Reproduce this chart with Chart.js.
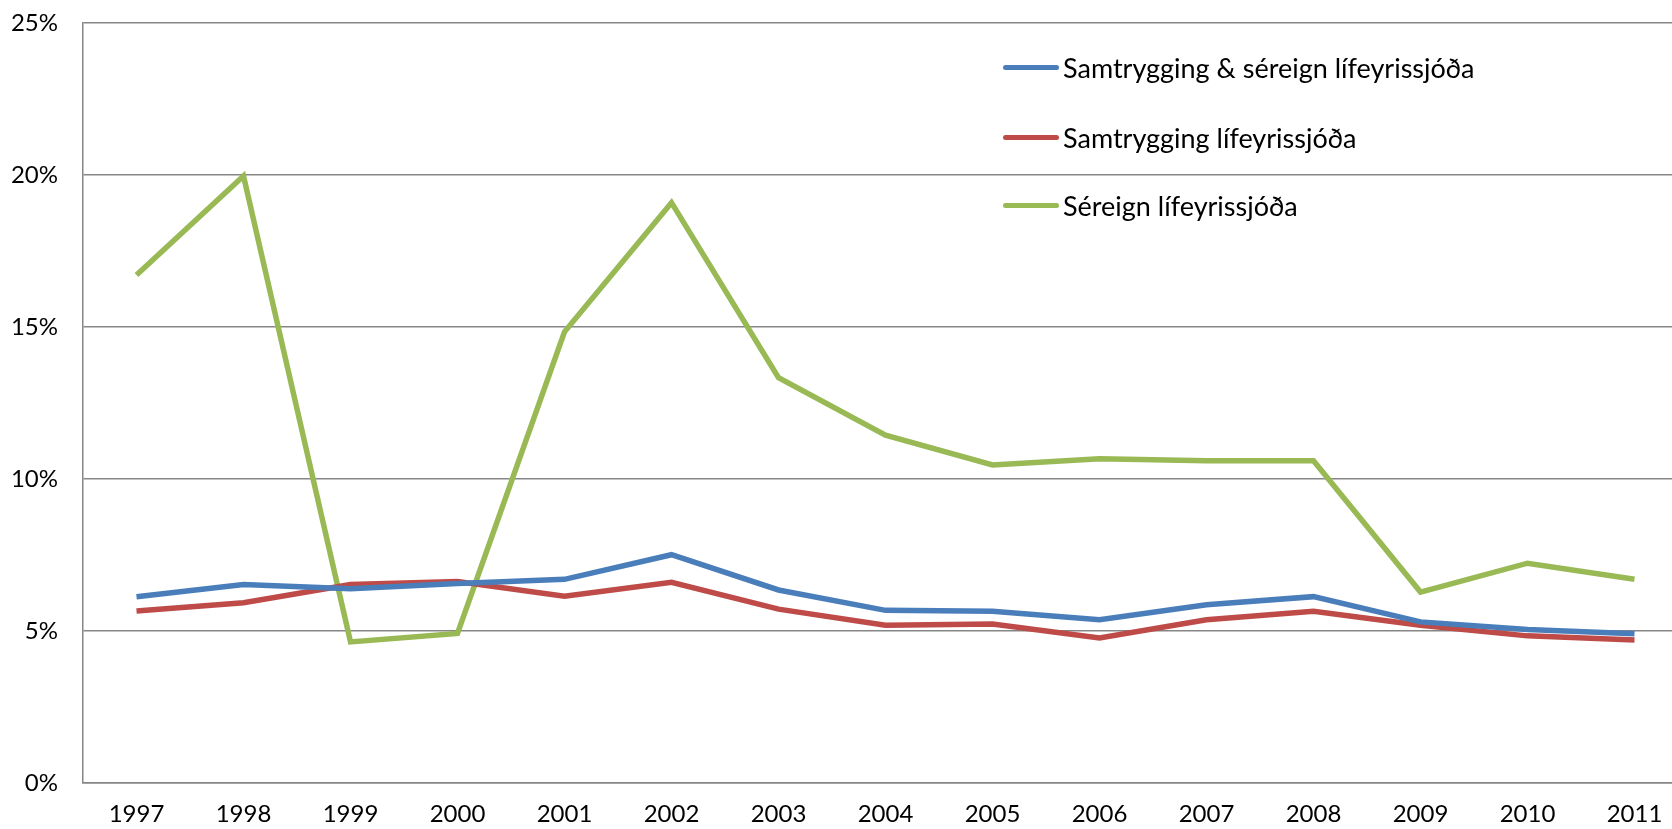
<!DOCTYPE html>
<html>
<head>
<meta charset="utf-8">
<script src="https://cdn.jsdelivr.net/npm/chart.js@4/dist/chart.umd.min.js"></script>
<style>
  html, body { margin: 0; padding: 0; background: #fff; overflow: hidden; width: 1672px; height: 829px; }
  #wrap { position: relative; width: 1690px; height: 829px; }
  #legend { position: absolute; left: 1003px; top: 0; font-family: Lato, "Open Sans", sans-serif; font-size: 27px; color: #000; }
  .item { position: absolute; left: 0; display: flex; align-items: center; white-space: nowrap; height: 34px; }
  .swatch { width: 56px; height: 5px; border-radius: 3px; margin-right: 4px; }
</style>
</head>
<body>
<div id="wrap">
  <canvas id="c" width="1690" height="829"></canvas>
  <div id="legend"></div>
</div>
<script>
const categories = ['1997','1998','1999','2000','2001','2002','2003','2004','2005','2006','2007','2008','2009','2010','2011'];
const seriesNames = ['Samtrygging & séreign lífeyrissjóða', 'Samtrygging lífeyrissjóða', 'Séreign lífeyrissjóða'];
const combined = [6.13, 6.53, 6.39, 6.56, 6.70, 7.51, 6.35, 5.68, 5.65, 5.37, 5.86, 6.13, 5.30, 5.05, 4.91];
const collective = [5.66, 5.93, 6.53, 6.63, 6.14, 6.60, 5.72, 5.19, 5.23, 4.77, 5.37, 5.65, 5.19, 4.84, 4.70];
const privatePension = [16.71, 19.97, 4.64, 4.92, 14.84, 19.09, 13.33, 11.44, 10.46, 10.67, 10.60, 10.60, 6.28, 7.23, 6.70];
const yTicks = [0, 5, 10, 15, 20, 25];
const colors = ['#4A7EBB', '#BE4B48', '#98B954'];

const values = [combined, collective, privatePension];
const datasets = seriesNames.map((name, i) => ({
  label: name,
  data: values[i],
  borderColor: colors[i],
  backgroundColor: colors[i],
  borderWidth: 5.5,
  pointRadius: 0,
  tension: 0,
  fill: false
}));

const font = { family: 'Lato, "Open Sans", sans-serif', size: 24 };

new Chart(document.getElementById('c'), {
  type: 'line',
  data: { labels: categories, datasets: datasets },
  options: {
    responsive: false,
    animation: false,
    devicePixelRatio: 1,
    layout: { padding: { left: 0, right: 2, top: 23, bottom: 0 } },
    plugins: { legend: { display: false }, tooltip: { enabled: false } },
    scales: {
      x: {
        type: 'category',
        offset: true,
        grid: { display: false, drawTicks: false },
        border: { display: true, color: '#868686', width: 1.5 },
        ticks: { color: '#000', font: font, padding: 17, maxRotation: 0, autoSkip: false },
        afterFit: s => { s.height = 46; s.paddingLeft = 0; s.paddingRight = 0; }
      },
      y: {
        min: 0, max: 25,
        afterBuildTicks: s => { s.ticks = yTicks.map(v => ({ value: v })); },
        grid: { color: '#868686', lineWidth: 1.5, drawTicks: false },
        border: { display: true, color: '#868686', width: 1.5 },
        ticks: { color: '#000', font: font, padding: 25, callback: v => v + '%' },
        afterFit: s => { s.width = 83; s.paddingTop = 0; s.paddingBottom = 0; }
      }
    }
  }
});

const legend = document.getElementById('legend');
const rowCenters = [67, 137, 205];
datasets.forEach((d, i) => {
  const item = document.createElement('div');
  item.className = 'item';
  item.style.top = (rowCenters[i] - 17) + 'px';
  const sw = document.createElement('div');
  sw.className = 'swatch';
  sw.style.background = d.borderColor;
  const t = document.createElement('span');
  t.textContent = d.label;
  item.appendChild(sw);
  item.appendChild(t);
  legend.appendChild(item);
});
</script>
</body>
</html>
